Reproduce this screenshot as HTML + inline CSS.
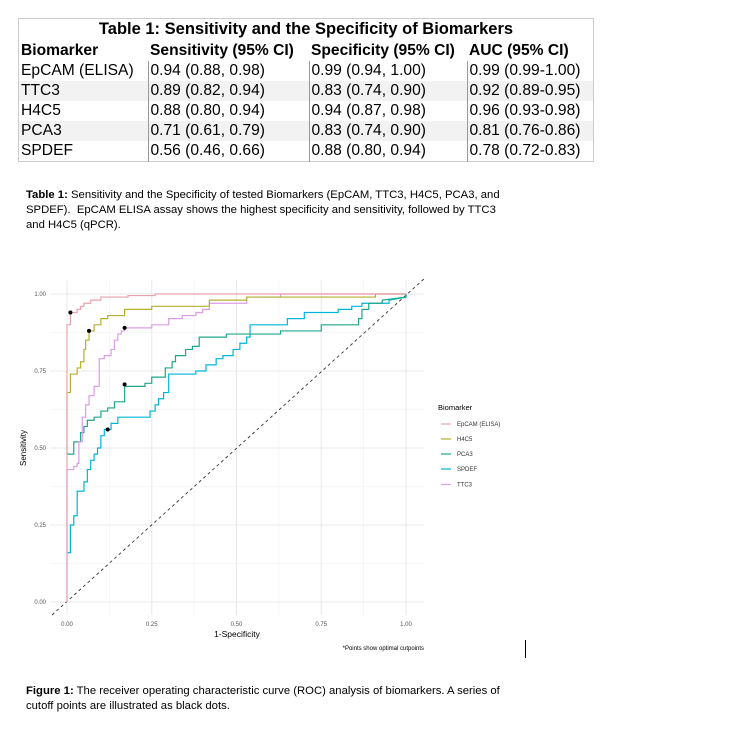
<!DOCTYPE html>
<html><head><meta charset="utf-8"><style>
*{margin:0;padding:0}
body{width:739px;height:743px;background:#fff;position:relative;overflow:hidden;font-family:"Liberation Sans",Arial,sans-serif;color:#000}
.a{position:absolute;white-space:nowrap}
table{position:absolute;left:18px;top:18px;width:576px;border-collapse:collapse;font-size:15.6px;border:1px solid #ccc}
td{padding:0 2px;height:20px;line-height:20px;border-left:1px solid #999}
td:first-child{border-left:none}
tr.g td{background:#f2f2f2}
th{font-weight:bold;text-align:left;padding:0 2px;height:21px;line-height:21px}
.cap{font-size:11.3px;line-height:15px;left:26px}
</style></head><body>
<table>
<tr><th colspan="4" style="text-align:center;font-size:16.5px">Table 1: Sensitivity and the Specificity of Biomarkers</th></tr>
<tr class="g"><th style="width:125px">Biomarker</th><th style="width:157px">Sensitivity (95% CI)</th><th style="width:154px">Specificity (95% CI)</th><th>AUC (95% CI)</th></tr>
<tr><td>EpCAM (ELISA)</td><td>0.94 (0.88, 0.98)</td><td>0.99 (0.94, 1.00)</td><td>0.99 (0.99-1.00)</td></tr>
<tr class="g"><td>TTC3</td><td>0.89 (0.82, 0.94)</td><td>0.83 (0.74, 0.90)</td><td>0.92 (0.89-0.95)</td></tr>
<tr><td>H4C5</td><td>0.88 (0.80, 0.94)</td><td>0.94 (0.87, 0.98)</td><td>0.96 (0.93-0.98)</td></tr>
<tr class="g"><td>PCA3</td><td>0.71 (0.61, 0.79)</td><td>0.83 (0.74, 0.90)</td><td>0.81 (0.76-0.86)</td></tr>
<tr><td>SPDEF</td><td>0.56 (0.46, 0.66)</td><td>0.88 (0.80, 0.94)</td><td>0.78 (0.72-0.83)</td></tr>
</table>
<div class="a cap" style="top:188px"><b>Table 1:</b> Sensitivity and the Specificity of tested Biomarkers (EpCAM, TTC3, H4C5, PCA3, and<br>SPDEF).&nbsp; EpCAM ELISA assay shows the highest specificity and sensitivity, followed by TTC3<br>and H4C5 (qPCR).</div>

<svg class="a" style="left:0;top:0" width="739" height="743">
<g stroke="#f0f0f0" stroke-width="0.6">
<line x1="50" x2="424" y1="332.5" y2="332.5"/><line x1="50" x2="424" y1="409.5" y2="409.5"/><line x1="50" x2="424" y1="486.5" y2="486.5"/><line x1="50" x2="424" y1="563.5" y2="563.5"/>
<line y1="280" y2="615" x1="109.4" x2="109.4"/><line y1="280" y2="615" x1="194.1" x2="194.1"/><line y1="280" y2="615" x1="278.9" x2="278.9"/><line y1="280" y2="615" x1="363.6" x2="363.6"/>
</g>
<g stroke="#e8e8e8" stroke-width="1">
<line x1="50" x2="424" y1="294" y2="294"/><line x1="50" x2="424" y1="371" y2="371"/><line x1="50" x2="424" y1="448" y2="448"/><line x1="50" x2="424" y1="525" y2="525"/><line x1="50" x2="424" y1="602" y2="602"/>
<line y1="280" y2="615" x1="67" x2="67"/><line y1="280" y2="615" x1="151.75" x2="151.75"/><line y1="280" y2="615" x1="236.5" x2="236.5"/><line y1="280" y2="615" x1="321.25" x2="321.25"/><line y1="280" y2="615" x1="406" x2="406"/>
</g>
<line x1="52" y1="615" x2="425" y2="278" stroke="#333" stroke-width="0.9" stroke-dasharray="3,3"/>
<g transform="translate(67,602) scale(339,-308)" fill="none" stroke-width="1.2">
<polyline vector-effect="non-scaling-stroke" stroke="#00b5d8" points="0,0.16 0.01,0.16 0.01,0.25 0.02,0.25 0.02,0.28 0.03,0.28 0.03,0.36 0.05,0.36 0.05,0.39 0.06,0.39 0.06,0.43 0.07,0.43 0.07,0.46 0.08,0.46 0.08,0.48 0.09,0.48 0.09,0.5 0.1,0.5 0.1,0.54 0.11,0.54 0.11,0.56 0.13,0.56 0.13,0.58 0.15,0.58 0.15,0.6 0.245,0.6 0.245,0.62 0.26,0.62 0.26,0.64 0.27,0.64 0.27,0.66 0.285,0.66 0.285,0.68 0.3,0.68 0.3,0.74 0.38,0.74 0.38,0.75 0.41,0.75 0.41,0.77 0.44,0.77 0.44,0.79 0.46,0.79 0.46,0.8 0.49,0.8 0.49,0.82 0.51,0.82 0.51,0.84 0.53,0.84 0.53,0.86 0.54,0.86 0.54,0.9 0.65,0.9 0.65,0.92 0.7,0.92 0.7,0.94 0.8,0.94 0.8,0.95 0.84,0.95 0.84,0.96 0.87,0.96 0.87,0.97 0.95,0.97 0.95,0.98 1,0.99 1,1"/>
<polyline vector-effect="non-scaling-stroke" stroke="#1fa88a" points="0,0.48 0.02,0.48 0.02,0.52 0.04,0.52 0.04,0.55 0.05,0.55 0.05,0.57 0.06,0.57 0.06,0.59 0.08,0.59 0.08,0.6 0.1,0.6 0.1,0.62 0.12,0.62 0.12,0.63 0.14,0.63 0.14,0.65 0.17,0.65 0.17,0.7 0.23,0.7 0.23,0.71 0.25,0.71 0.25,0.73 0.29,0.73 0.29,0.76 0.31,0.76 0.31,0.78 0.32,0.78 0.32,0.8 0.35,0.8 0.35,0.82 0.37,0.82 0.37,0.83 0.39,0.83 0.39,0.86 0.47,0.86 0.47,0.87 0.63,0.87 0.63,0.88 0.75,0.88 0.75,0.9 0.86,0.9 0.86,0.92 0.87,0.92 0.87,0.95 0.89,0.95 0.89,0.97 0.93,0.97 0.93,0.98 1,0.99 1,1"/>
<polyline vector-effect="non-scaling-stroke" stroke="#dc9ce8" points="0,0 0,0.43 0.02,0.43 0.02,0.44 0.03,0.44 0.03,0.45 0.035,0.45 0.035,0.52 0.045,0.52 0.045,0.6 0.055,0.6 0.055,0.64 0.065,0.64 0.065,0.67 0.08,0.67 0.08,0.7 0.095,0.7 0.095,0.79 0.11,0.79 0.11,0.8 0.13,0.8 0.13,0.82 0.14,0.82 0.14,0.85 0.15,0.85 0.15,0.87 0.16,0.87 0.16,0.88 0.17,0.88 0.17,0.89 0.25,0.89 0.25,0.9 0.3,0.9 0.3,0.92 0.34,0.92 0.34,0.93 0.38,0.93 0.38,0.94 0.4,0.94 0.4,0.95 0.42,0.95 0.42,0.97 0.53,0.97 0.53,0.99 0.63,0.99 0.63,1 1,1"/>
<polyline vector-effect="non-scaling-stroke" stroke="#b5b030" points="0,0.48 0,0.68 0.01,0.68 0.01,0.74 0.03,0.74 0.03,0.76 0.04,0.76 0.04,0.78 0.05,0.78 0.05,0.82 0.055,0.82 0.055,0.85 0.065,0.85 0.065,0.88 0.08,0.88 0.08,0.9 0.1,0.9 0.1,0.92 0.12,0.92 0.12,0.93 0.17,0.93 0.17,0.95 0.25,0.95 0.25,0.96 0.42,0.96 0.42,0.98 0.53,0.98 0.53,0.99 0.91,0.99 0.91,1 1,1"/>
<polyline vector-effect="non-scaling-stroke" stroke="#eaa2ac" points="0,0 0,0.9 0.01,0.9 0.01,0.94 0.03,0.94 0.03,0.95 0.04,0.95 0.04,0.96 0.05,0.96 0.05,0.97 0.07,0.97 0.07,0.98 0.1,0.98 0.1,0.99 0.18,0.99 0.18,0.995 0.26,0.995 0.26,1 1,1"/>
</g>
<g fill="#000">
<circle cx="70.4" cy="312.5" r="2"/><circle cx="89" cy="330.9" r="2"/><circle cx="124.6" cy="327.9" r="2"/><circle cx="124.6" cy="384.4" r="2"/><circle cx="107.7" cy="429.5" r="2"/>
</g>
<g font-family="Liberation Sans,Arial,sans-serif" font-size="6" fill="#555" text-anchor="end">
<text x="46" y="296">1.00</text><text x="46" y="373">0.75</text><text x="46" y="450">0.50</text><text x="46" y="527">0.25</text><text x="46" y="604">0.00</text>
</g>
<g font-family="Liberation Sans,Arial,sans-serif" font-size="6" fill="#555" text-anchor="middle">
<text x="67" y="626">0.00</text><text x="151.75" y="626">0.25</text><text x="236.5" y="626">0.50</text><text x="321.25" y="626">0.75</text><text x="406" y="626">1.00</text>
</g>
<text x="237" y="637" font-family="Liberation Sans,Arial,sans-serif" font-size="8.5" text-anchor="middle">1-Specificity</text>
<text transform="translate(26,448) rotate(-90)" font-family="Liberation Sans,Arial,sans-serif" font-size="8" text-anchor="middle">Sensitivity</text>
<text x="424" y="650" font-family="Liberation Sans,Arial,sans-serif" font-size="6" text-anchor="end">*Points show optimal cutpoints</text>
<text x="438" y="410" font-family="Liberation Sans,Arial,sans-serif" font-size="7.5">Biomarker</text>
<g stroke-width="1.2">
<line x1="441" x2="451" y1="424" y2="424" stroke="#eaa2ac"/>
<line x1="441" x2="451" y1="439" y2="439" stroke="#b5b030"/>
<line x1="441" x2="451" y1="454" y2="454" stroke="#1fa88a"/>
<line x1="441" x2="451" y1="469" y2="469" stroke="#00b5d8"/>
<line x1="441" x2="451" y1="484.5" y2="484.5" stroke="#dc9ce8"/>
</g>
<g font-family="Liberation Sans,Arial,sans-serif" font-size="6" fill="#333">
<text x="457" y="426">EpCAM (ELISA)</text><text x="457" y="441">H4C5</text><text x="457" y="456">PCA3</text><text x="457" y="471">SPDEF</text><text x="457" y="486.5">TTC3</text>
</g>
<line x1="525.5" x2="525.5" y1="640" y2="658" stroke="#000" stroke-width="1"/>
</svg>
<div class="a cap" style="top:684px"><b>Figure 1:</b> The receiver operating characteristic curve (ROC) analysis of biomarkers. A series of<br>cutoff points are illustrated as black dots.</div>
</body></html>
